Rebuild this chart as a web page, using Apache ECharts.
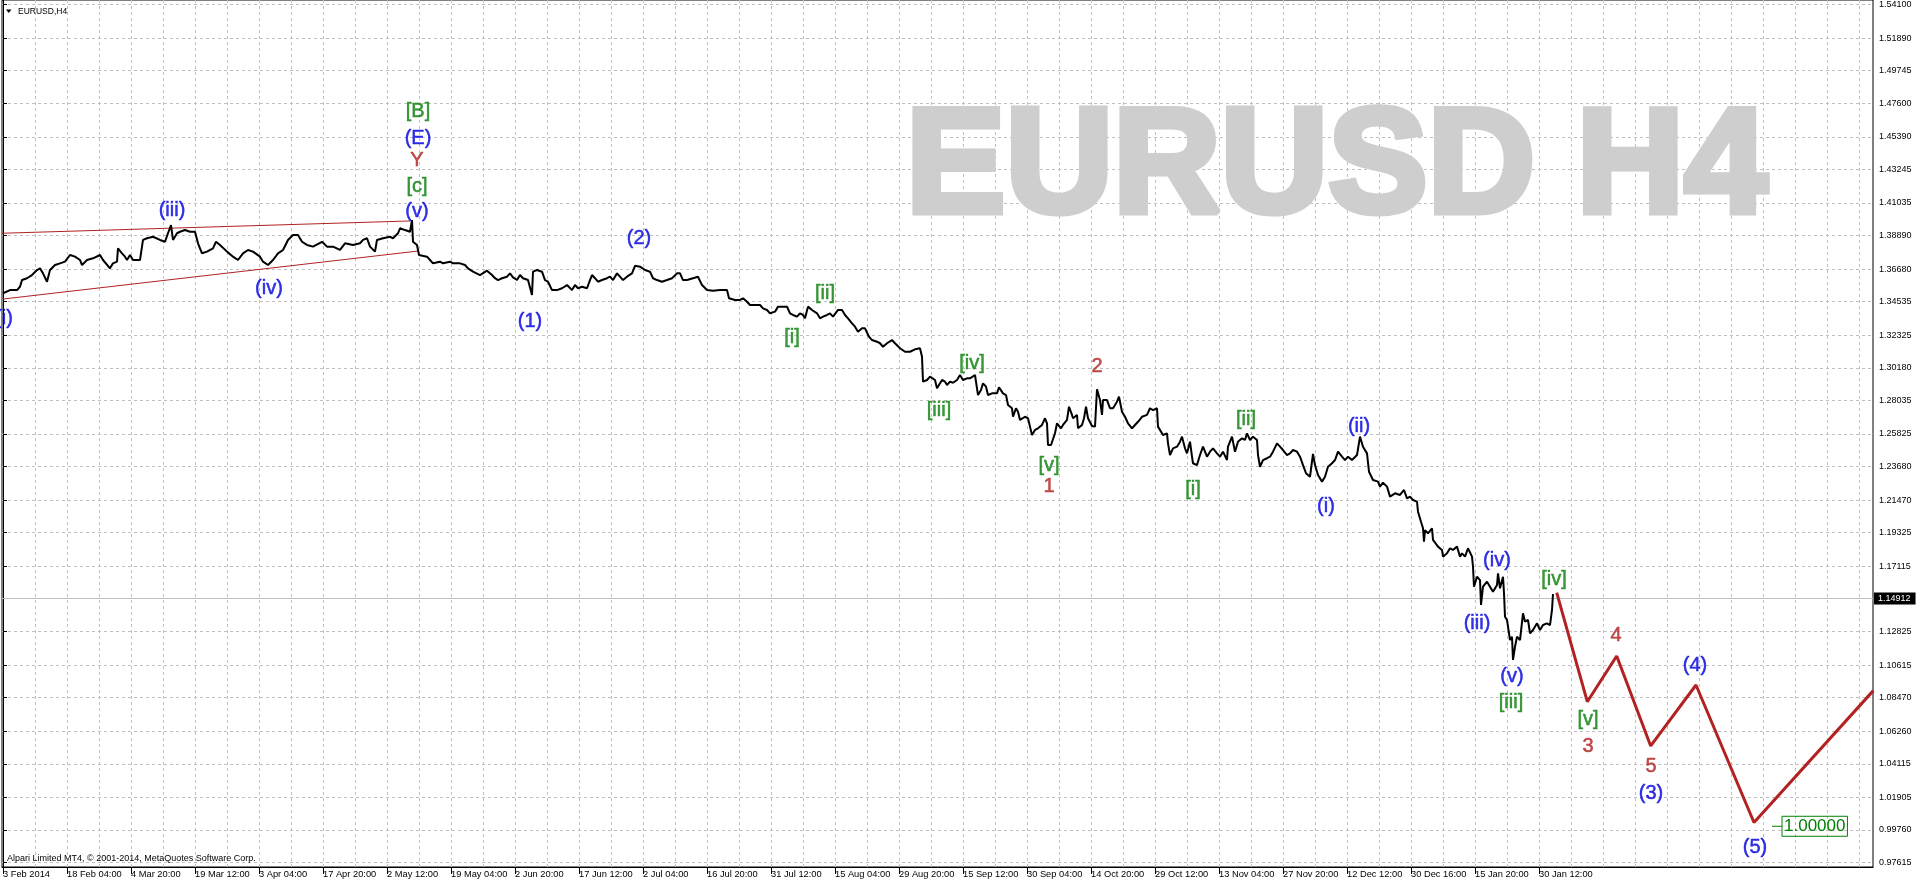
<!DOCTYPE html>
<html><head><meta charset="utf-8">
<script src="https://cdn.jsdelivr.net/npm/echarts@6/dist/echarts.min.js"></script>
<style>html,body{margin:0;padding:0;background:#fff}#c{width:1916px;height:884px}</style>
</head><body><div id="c"></div><script>
// ---- data ----
const symbolTitle = 'EURUSD,H4';
const watermarkText = 'EURUSD H4';
const copyrightText = 'Alpari Limited MT4, \u00a9 2001-2014, MetaQuotes Software Corp.';
const lastPrice = 1.14912;
const targetPrice = 1.00000;

// x axis: bar index (H4 bars), labels every 64 bars
const xLabelBars = [0,64,128,192,256,320,384,448,512,576,640,704,768,832,896,960,1024,1088,1152,1216,1280,1344,1408,1472,1536];
const xLabelTexts = ['3 Feb 2014','18 Feb 04:00','4 Mar 20:00','19 Mar 12:00','3 Apr 04:00','17 Apr 20:00','2 May 12:00','19 May 04:00','2 Jun 20:00','17 Jun 12:00','2 Jul 04:00','16 Jul 20:00','31 Jul 12:00','15 Aug 04:00','29 Aug 20:00','15 Sep 12:00','30 Sep 04:00','14 Oct 20:00','29 Oct 12:00','13 Nov 04:00','27 Nov 20:00','12 Dec 12:00','30 Dec 16:00','15 Jan 20:00','30 Jan 12:00'];

// y axis tick labels
const yTickLabels = [1.54100,1.51890,1.49745,1.47600,1.45390,1.43245,1.41035,1.38890,1.36680,1.34535,1.32325,1.30180,1.28035,1.25825,1.23680,1.21470,1.19325,1.17115,1.12825,1.10615,1.08470,1.06260,1.04115,1.01905,0.99760,0.97615];
const yHiddenGrid = [1.14995];

// price path [bar, price]
const pricePath = [
[0,1.3509],[7,1.3530],[14,1.3530],[17,1.3552],[19,1.3596],[24,1.3608],[29,1.3629],[34,1.3662],[37,1.3673],[40,1.3640],[44,1.3585],[47,1.3662],[52,1.3695],[57,1.3706],[62,1.3717],[67,1.3761],[72,1.3750],[77,1.3728],[79,1.3695],[84,1.3728],[90,1.3739],[97,1.3761],[100,1.3728],[107,1.3673],[110,1.3706],[114,1.3717],[115,1.3805],[119,1.3772],[122,1.3750],[124,1.3728],[127,1.3761],[130,1.3728],[137,1.3728],[140,1.3860],[144,1.3871],[150,1.3881],[157,1.3860],[162,1.3848],[165,1.3904],[168,1.3958],[170,1.3860],[174,1.3904],[177,1.3914],[182,1.3925],[187,1.3914],[192,1.3914],[195,1.3838],[199,1.3772],[204,1.3783],[210,1.3805],[213,1.3848],[217,1.3827],[224,1.3783],[230,1.3750],[235,1.3728],[240,1.3772],[245,1.3794],[250,1.3783],[257,1.3750],[260,1.3717],[265,1.3695],[270,1.3728],[275,1.3772],[280,1.3794],[285,1.3860],[290,1.3893],[295,1.3893],[299,1.3848],[304,1.3827],[310,1.3816],[319,1.3848],[324,1.3816],[330,1.3816],[337,1.3794],[342,1.3838],[350,1.3827],[357,1.3838],[360,1.3860],[364,1.3871],[367,1.3816],[372,1.3783],[374,1.3860],[380,1.3871],[387,1.3881],[390,1.3871],[395,1.3904],[397,1.3937],[402,1.3925],[407,1.3914],[409,1.3991],[410,1.3848],[414,1.3827],[416,1.3761],[424,1.3750],[427,1.3728],[430,1.3706],[437,1.3717],[440,1.3706],[447,1.3717],[450,1.3706],[457,1.3706],[462,1.3695],[465,1.3673],[470,1.3651],[477,1.3629],
[479,1.3618],[484,1.3658],[489,1.3629],[492,1.3608],[495,1.3596],[499,1.3608],[504,1.3618],[507,1.3640],[510,1.3614],[514,1.3596],[517,1.3629],[520,1.3608],[525,1.3596],[529,1.3498],[530,1.3651],[534,1.3662],[539,1.3651],[542,1.3596],[545,1.3585],[549,1.3530],[554,1.3530],[559,1.3542],[564,1.3563],[569,1.3530],[572,1.3563],[575,1.3542],[579,1.3552],[584,1.3542],[587,1.3596],[589,1.3629],[592,1.3608],[595,1.3585],[599,1.3596],[604,1.3608],[607,1.3618],[610,1.3596],[614,1.3640],[617,1.3618],[620,1.3596],[624,1.3618],[629,1.3640],[632,1.3690],[637,1.3684],[642,1.3662],[647,1.3651],[650,1.3608],[654,1.3596],[659,1.3585],[664,1.3596],[669,1.3608],[674,1.3640],[677,1.3640],[680,1.3596],[684,1.3596],[690,1.3608],[695,1.3618],[699,1.3563],[704,1.3530],[710,1.3526],[717,1.3530],[724,1.3530],[726,1.3476],[732,1.3465],[737,1.3465],[740,1.3476],[744,1.3453],[747,1.3432],[752,1.3432],[757,1.3432],[760,1.3410],[764,1.3399],[767,1.3377],[772,1.3388],[775,1.3421],[779,1.3421],[784,1.3421],[787,1.3377],[790,1.3366],[794,1.3355],[797,1.3377],[800,1.3366],[802,1.3344],[805,1.3421],[809,1.3399],[814,1.3377],[817,1.3344],[820,1.3355],[824,1.3366],[827,1.3377],[830,1.3355],[835,1.3399],[839,1.3399],[842,1.3366],[845,1.3344],[849,1.3311],[852,1.3289],[855,1.3256],[859,1.3278],[862,1.3278],[864,1.3289],[866,1.3223],[869,1.3201],[874,1.3190],[877,1.3180],[880,1.3157],[884,1.3180],[889,1.3201],[892,1.3180],[897,1.3147],[902,1.3124],[907,1.3124],[912,1.3140],[917,1.3147],[919,1.3091],[920,1.2927],[924,1.2938],[927,1.2960],[932,1.2938],
[934,1.2883],[935,1.2872],[939,1.2938],[942,1.2927],[944,1.2905],[947,1.2927],[950,1.2920],[954,1.2938],[957,1.2971],[960,1.2938],[964,1.2949],[967,1.2949],[972,1.2971],[974,1.2971],[975,1.2839],[978,1.2872],[980,1.2916],[983,1.2894],[985,1.2839],[989,1.2850],[994,1.2850],[996,1.2890],[1000,1.2850],[1003,1.2839],[1005,1.2773],[1009,1.2752],[1010,1.2696],[1013,1.2752],[1015,1.2729],[1017,1.2675],[1022,1.2696],[1025,1.2686],[1027,1.2631],[1029,1.2576],[1032,1.2609],[1035,1.2620],[1039,1.2642],[1042,1.2686],[1044,1.2653],[1045,1.2510],[1048,1.2510],[1052,1.2587],[1054,1.2653],[1058,1.2620],[1060,1.2642],[1064,1.2675],[1066,1.2762],[1069,1.2708],[1070,1.2686],[1074,1.2708],[1075,1.2620],[1079,1.2642],[1081,1.2686],[1083,1.2762],[1085,1.2686],[1089,1.2635],[1092,1.2631],[1094,1.2877],[1097,1.2806],[1099,1.2708],[1100,1.2806],[1104,1.2806],[1107,1.2752],[1110,1.2752],[1114,1.2795],[1116,1.2828],[1119,1.2729],[1122,1.2696],[1125,1.2653],[1129,1.2620],[1132,1.2642],[1135,1.2663],[1139,1.2696],[1144,1.2708],[1147,1.2752],[1150,1.2740],[1154,1.2752],[1155,1.2631],[1157,1.2620],[1160,1.2576],[1164,1.2587],[1165,1.2521],[1167,1.2444],[1170,1.2488],[1174,1.2499],[1177,1.2532],[1179,1.2565],[1182,1.2488],[1184,1.2455],[1187,1.2532],[1189,1.2433],[1190,1.2390],[1194,1.2378],[1197,1.2444],[1200,1.2499],[1204,1.2433],[1207,1.2466],[1210,1.2488],[1214,1.2455],[1217,1.2433],[1220,1.2466],[1224,1.2411],[1225,1.2499],[1229,1.2565],[1232,1.2466],[1235,1.2532],[1239,1.2554],[1242,1.2543],[1244,1.2587],[1247,1.2543],[1250,1.2565],[1254,1.2543],[1255,1.2444],[1257,1.2367],[1260,1.2411],[1264,1.2423],[1267,1.2433],[1270,1.2466],[1274,1.2521],[1277,1.2499],[1280,1.2477],[1284,1.2444],[1287,1.2455],[1290,1.2477],[1294,1.2466],[1297,1.2433],[1300,1.2378],[1303,1.2324],[1307,1.2301],[1310,1.2451],[1312,1.2378],[1315,1.2313],[1319,1.2269],[1322,1.2301],[1325,1.2367],[1329,1.2390],[1332,1.2411],[1335,1.2466],[1339,1.2433],[1342,1.2411],[1345,1.2433],[1349,1.2411],[1354,1.2444],[1357,1.2565],[1360,1.2499],[1364,1.2455],[1366,1.2334],[1370,1.2280],[1375,1.2269],
[1377,1.2236],[1380,1.2262],[1384,1.2236],[1387,1.2170],[1392,1.2192],[1397,1.2181],[1401,1.2214],[1404,1.2159],[1407,1.2170],[1410,1.2148],[1414,1.2137],[1415,1.2071],[1418,1.2005],[1420,1.1962],[1421,1.1873],[1422,1.1950],[1425,1.1929],[1429,1.1962],[1430,1.1885],[1435,1.1841],[1439,1.1819],[1440,1.1775],[1444,1.1797],[1447,1.1830],[1450,1.1819],[1454,1.1841],[1457,1.1775],[1459,1.1797],[1462,1.1775],[1465,1.1830],[1469,1.1775],[1470,1.1709],[1471,1.1577],[1474,1.1643],[1477,1.1621],[1478,1.1457],[1480,1.1577],[1484,1.1610],[1487,1.1577],[1490,1.1544],[1494,1.1588],[1495,1.1665],[1497,1.1567],[1500,1.1643],[1501,1.1534],[1502,1.1380],[1504,1.1358],[1505,1.1314],[1507,1.1226],[1509,1.1248],[1510,1.1095],[1512,1.1182],[1514,1.1248],[1517,1.1226],[1520,1.1402],[1522,1.1347],[1525,1.1358],[1527,1.1270],[1530,1.1292],[1534,1.1336],[1537,1.1292],[1540,1.1325],[1544,1.1336],[1547,1.1325],[1549,1.1424],[1550,1.1529]
];

// projected wave path (red zigzag)
const forecastPath = [[1553.7,1.1538],[1584.3,1.0820],[1613.7,1.1121],[1647.7,1.0529],[1693,1.0930],[1751,1.0025],[1870.3,1.0893]];

// wedge trendlines
const wedgeUpper = [[-1,1.3904],[407,1.3985]];
const wedgeLower = [[0,1.3471],[415,1.3787]];

// wave labels [bar, price, text]
const blueLabels = [
[1,1.3346,'(i)'],[169,1.4053,'(iii)'],[266,1.3542,'(iv)'],[415,1.4529,'(E)'],[414,1.4046,'(v)'],
[527,1.3322,'(1)'],[636,1.3871,'(2)'],[1323,1.2104,'(i)'],[1356,1.2631,'(ii)'],
[1474,1.1332,'(iii)'],[1494,1.1753,'(iv)'],[1509,1.0983,'(v)'],[1692,1.1057,'(4)'],[1648,1.0217,'(3)'],[1752,0.9859,'(5)']
];
const greenLabels = [
[415,1.4704,'[B]'],[414,1.4211,'[c]'],[789,1.3219,'[i]'],[822,1.3509,'[ii]'],[936,1.2734,'[iii]'],[969,1.3048,'[iv]'],
[1046,1.2378,'[v]'],[1190,1.2218,'[i]'],[1243,1.2681,'[ii]'],[1508,1.0816,'[iii]'],[1551,1.1626,'[iv]'],[1585,1.0700,'[v]']
];
const redLabels = [
[414,1.4382,'Y'],[1046,1.2236,'1'],[1094,1.3026,'2'],[1585,1.0524,'3'],[1613,1.1259,'4'],[1648,1.0392,'5']
];
const targetMark = [[1769,targetPrice],[1779,targetPrice]];

// ---- chart ----
const gridBars = [];
for (let b = 32; b <= 1860; b += 32) gridBars.push(b);
const axisFont = 'Liberation Sans';
const waveFont = 'Liberation Sans';

function labelSeries(data, color) {
  return {
    type: 'scatter', xAxisIndex: 0, yAxisIndex: 0, z: 10,
    symbol: 'circle', symbolSize: 1,
    itemStyle: {color: 'rgba(0,0,0,0)'},
    silent: true,
    data: data.map(d => ({value: [d[0], d[1]], name: d[2]})),
    label: {show: true, position: 'inside', formatter: '{b}', color: color,
      fontSize: 20, fontFamily: waveFont, fontWeight: 'normal',
      textBorderColor: color, textBorderWidth: 0.5}
  };
}

const chart = echarts.init(document.getElementById('c'), null, {renderer: 'canvas'});
chart.setOption({
  animation: false,
  backgroundColor: '#ffffff',
  grid: {left: 2, right: 43, top: 0, bottom: 17, show: true, borderColor: '#000', borderWidth: 1, backgroundColor: 'transparent'},
  xAxis: [{
    type: 'value', min: -1, max: 1870, position: 'bottom',
    axisLine: {show: true, lineStyle: {color: '#000', width: 1}},
    axisTick: {show: true, customValues: xLabelBars, length: 7, lineStyle: {color: '#000'}},
    axisLabel: {show: true, customValues: xLabelBars, align: 'left', margin: 3,
      formatter: v => { const i = xLabelBars.indexOf(v); return i >= 0 ? xLabelTexts[i] : ''; },
      color: '#000', fontSize: 9.3, fontFamily: axisFont},
    splitLine: {show: false}
  }, {
    type: 'value', min: -1, max: 1870, position: 'top',
    axisLine: {show: false},
    axisTick: {show: false, customValues: gridBars},
    axisLabel: {show: false},
    splitLine: {show: true, lineStyle: {color: '#c0c0c0', type: [3, 3], width: 1}}
  }],
  yAxis: [{
    type: 'value', position: 'right', min: 0.97319, max: 1.54396,
    axisLine: {show: true, lineStyle: {color: '#000', width: 1}},
    axisTick: {show: true, customValues: yTickLabels.concat(yHiddenGrid), length: 4, lineStyle: {color: '#000'}},
    axisLabel: {show: true, customValues: yTickLabels, formatter: v => v.toFixed(5), margin: 6,
      color: '#000', fontSize: 9, fontFamily: axisFont},
    splitLine: {show: true, lineStyle: {color: '#c0c0c0', type: [3, 3], width: 1}}
  }],
  graphic: [
    {type: 'text', z: 1, silent: true,
      style: {text: watermarkText, x: 906, y: 171, fill: '#cecece', stroke: '#cecece', lineWidth: 7,
        font: 'bold 149px "Liberation Sans"', verticalAlign: 'middle', align: 'left'}},
    {type: 'polygon', z: 20, shape: {points: [[6, 9.5], [11.5, 9.5], [8.75, 13]]}, style: {fill: '#000'}},
    {type: 'text', z: 20, style: {text: symbolTitle, x: 18, y: 11.5, fill: '#000', font: '8.5px "Liberation Sans"', verticalAlign: 'middle'}},
    {type: 'text', z: 20, style: {text: copyrightText, x: 7, y: 859, fill: '#000', font: '9px "Liberation Sans"', verticalAlign: 'middle'}}
  ],
  series: [
    {type: 'line', name: 'price', data: pricePath, xAxisIndex: 0, yAxisIndex: 0, z: 6,
      symbol: 'none', showSymbol: false, lineStyle: {color: '#000', width: 2}, silent: true,
      markLine: {symbol: 'none', silent: true, animation: false,
        lineStyle: {color: '#c0c0c0', type: 'solid', width: 1},
        label: {show: true, position: 'end', formatter: lastPrice.toFixed(5), color: '#fff', backgroundColor: '#000',
          padding: [2, 5, 1, 4], fontSize: 9, fontFamily: axisFont, distance: 1},
        data: [{yAxis: lastPrice}]}},
    {type: 'line', name: 'forecast', data: forecastPath, xAxisIndex: 0, yAxisIndex: 0, z: 7,
      symbol: 'none', lineStyle: {color: '#b22222', width: 3}, silent: true},
    {type: 'line', name: 'wedgeU', data: wedgeUpper, z: 5, symbol: 'none', lineStyle: {color: '#b22222', width: 1}, silent: true},
    {type: 'line', name: 'wedgeL', data: wedgeLower, z: 5, symbol: 'none', lineStyle: {color: '#b22222', width: 1}, silent: true},
    {type: 'line', name: 'target', data: targetMark, z: 8, symbol: 'none', lineStyle: {color: '#008000', width: 1}, silent: true,
      endLabel: {show: true, formatter: targetPrice.toFixed(5), color: '#008000', fontSize: 17, fontFamily: waveFont,
        borderColor: '#008000', borderWidth: 1, padding: [2, 2, 1, 2], distance: 0}},
    labelSeries(blueLabels, '#0000e0'),
    labelSeries(greenLabels, '#0a800a'),
    labelSeries(redLabels, '#b22222')
  ]
});
</script></body></html>
